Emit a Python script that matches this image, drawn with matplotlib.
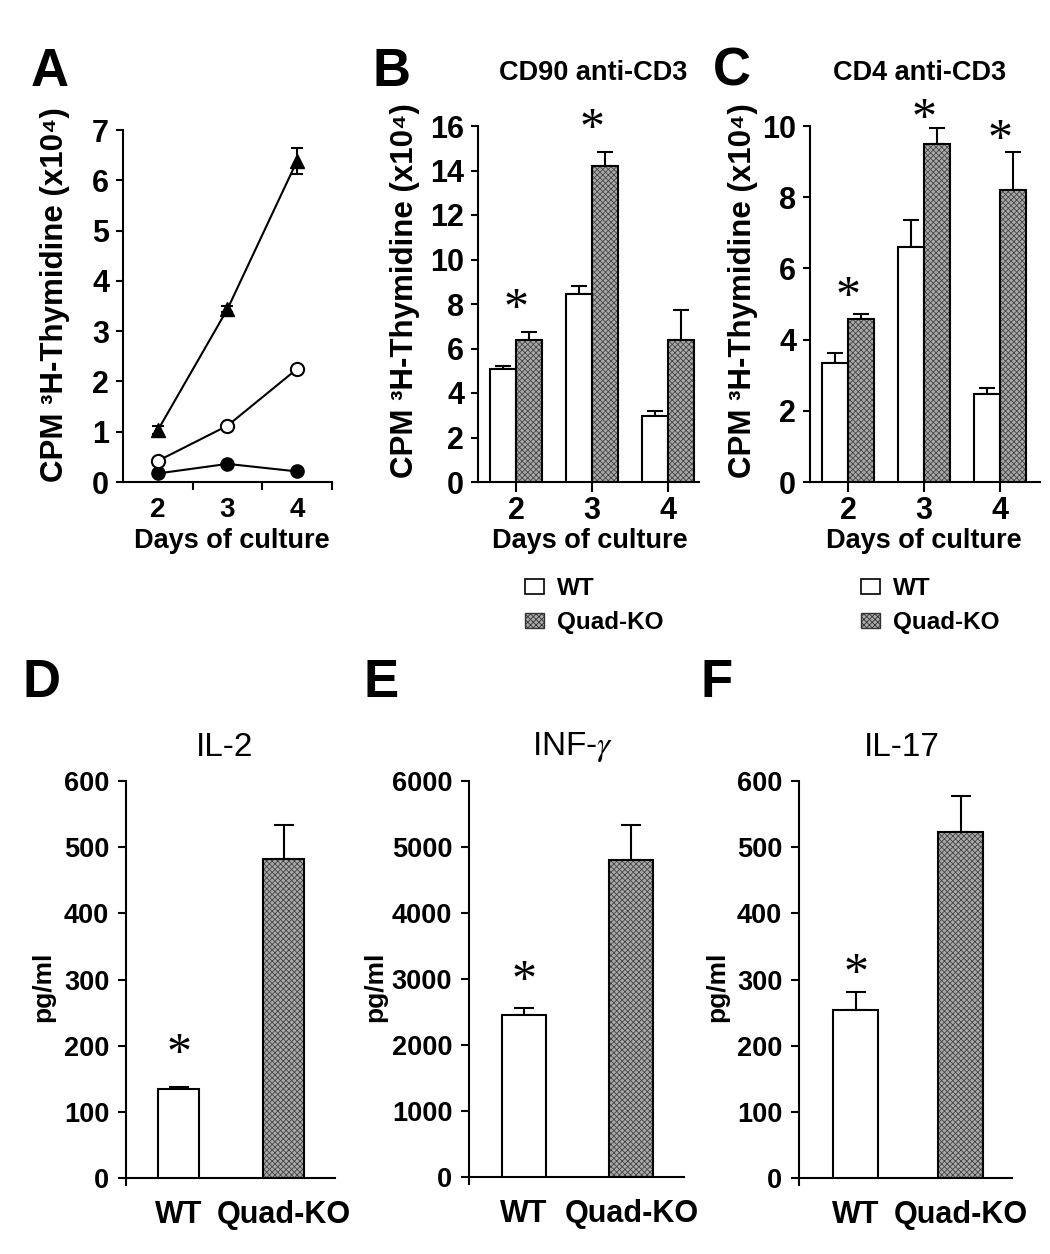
import matplotlib.pyplot as plt
import matplotlib.patches as mpatches
import matplotlib.transforms as mtransforms
import numpy as np

plt.rcParams['font.family'] = ['Liberation Sans', 'DejaVu Sans']
plt.rcParams['hatch.linewidth'] = 0.6
plt.rcParams['mathtext.fontset'] = 'stix'

W, H = 1050, 1254

# ---- data ----
days = [2, 3, 4]
tri_A = [1.03, 3.44, 6.39]
tri_A_err = [0.08, 0.06, 0.26]
open_A = [0.42, 1.12, 2.25]
open_A_err = [0.05, 0.09, 0.04]
fill_A = [0.17, 0.36, 0.21]

wt_B = [5.07, 8.47, 2.95]
wt_B_err = [0.16, 0.33, 0.23]
ko_B = [6.40, 14.22, 6.37]
ko_B_err = [0.35, 0.63, 1.38]
star_B_days = [2, 3]
star_B_y = [8.1, 16.2]

wt_C = [3.35, 6.61, 2.46]
wt_C_err = [0.26, 0.75, 0.18]
ko_C = [4.59, 9.49, 8.20]
ko_C_err = [0.12, 0.44, 1.08]
star_C_days = [2, 3, 4]
star_C_y = [5.4, 10.4, 9.8]

groups = ['WT', 'Quad-KO']
il2 = [134, 482]
il2_err = [3, 52]
infg = [2452, 4802]
infg_err = [116, 531]
il17 = [254, 523]
il17_err = [27, 55]
star_bottom_y = [201, 3109, 322]

KO_FACE = '#a9a9a9'
KO_HATCH = '#454545'


def rect(l, t, r, b):
    return [l / W, 1 - b / H, (r - l) / W, (b - t) / H]


def ftext(x, y, s, **kw):
    fig.text(x / W, 1 - y / H, s, ha='center', va='center', **kw)


def style(ax, ylab_size):
    for s in ['top', 'right']:
        ax.spines[s].set_visible(False)
    for s in ['left', 'bottom']:
        ax.spines[s].set_linewidth(1.5)
    ax.tick_params(axis='y', direction='out', length=5, width=1.5, pad=5,
                   labelsize=ylab_size)
    for lab in ax.get_yticklabels():
        lab.set_fontweight('bold')


def ko_bar(ax, x, h, w):
    ax.bar(x, h, w, color=KO_FACE, hatch='xxxxxx', edgecolor=KO_HATCH, linewidth=0, zorder=2)
    ax.bar(x, h, w, fill=False, edgecolor='k', linewidth=1.5, zorder=3)


def wt_bar(ax, x, h, w):
    ax.bar(x, h, w, color='white', edgecolor='k', linewidth=1.5, zorder=3)


def up_err(ax, x, y, e, cap):
    ax.errorbar(x, y, yerr=[np.zeros(len(e)), e], fmt='none', ecolor='k',
                elinewidth=1.5, capsize=cap, capthick=1.5, zorder=1)


def star(ax, x, y, dy_px):
    tr = ax.transData + mtransforms.ScaledTranslation(0, -dy_px / 100, fig.dpi_scale_trans)
    ax.text(x, y, '*', ha='center', va='center', fontsize=36,
            family='Liberation Serif', transform=tr)


fig = plt.figure(figsize=(W / 100, H / 100), dpi=100)

# ---------------- A ----------------
axA = fig.add_axes(rect(123, 130, 332, 482))
axA.errorbar(days, tri_A, yerr=tri_A_err, color='k', marker='^', ms=10, lw=1.5,
             capsize=4, capthick=1.5, elinewidth=1.5)
axA.errorbar(days, open_A, yerr=open_A_err, color='k', marker='o', ms=9.5, mfc='white',
             mew=1.5, lw=1.5, capsize=3, capthick=1.2, elinewidth=1.2)
axA.plot(days, fill_A, color='k', marker='o', ms=9.5, lw=1.5)
axA.set_xlim(1.5, 4.5)
axA.set_ylim(0, 7)
axA.set_yticks(range(0, 8))
axA.set_xticks(days)
axA.set_xticks([2.5, 3.5, 4.5], minor=True)
style(axA, 22)
axA.tick_params(axis='x', which='major', length=0, pad=11, labelsize=20)
axA.tick_params(axis='x', which='minor', length=6, width=1.5, direction='out')
for lab in axA.get_xticklabels():
    lab.set_fontweight('bold')
axA.patch.set_alpha(0)

# ---------------- B / C ----------------
def bar_panel(box, right_extra, wt, wt_err, ko, ko_err, ymax, yticks, sdays, sy):
    ax = fig.add_axes(rect(*box))
    centers = np.arange(1, 4)
    bw = 26 / 76
    wt_bar(ax, centers - bw / 2, wt, bw)
    ko_bar(ax, centers + bw / 2, ko, bw)
    up_err(ax, centers - bw / 2, wt, wt_err, 6)
    up_err(ax, centers + bw / 2, ko, ko_err, 6)
    for d, y in zip(sdays, sy):
        star(ax, d - 1, y, 8)
    ax.set_xlim(0.5, 3 + right_extra)
    ax.set_ylim(0, ymax)
    ax.set_yticks(yticks)
    ax.set_xticks(centers)
    ax.set_xticklabels([str(d) for d in days])
    style(ax, 22)
    ax.tick_params(axis='x', length=7, width=1.5, direction='out', pad=3, labelsize=22)
    for lab in ax.get_xticklabels():
        lab.set_fontweight('bold')
    return ax


axB = bar_panel((478, 126, 699, 482), 31 / 76, wt_B, wt_B_err, ko_B, ko_B_err,
                16, range(0, 17, 2), star_B_days, star_B_y)
axC = bar_panel((810, 126, 1040, 482), 40 / 76, wt_C, wt_C_err, ko_C, ko_C_err,
                10, range(0, 11, 2), star_C_days, star_C_y)

# ---------------- D / E / F ----------------
def cyto_panel(box, xlim, bw, vals, errs, ymax, step, sy, cap):
    ax = fig.add_axes(rect(*box))
    x = np.arange(len(groups))
    wt_bar(ax, x[0], vals[0], bw)
    ko_bar(ax, x[1], vals[1], bw)
    up_err(ax, x, vals, errs, cap)
    star(ax, x[0], sy, 10)
    ax.set_xlim(*xlim)
    ax.set_ylim(0, ymax)
    ax.set_yticks(np.arange(0, ymax + 1, step))
    ax.set_xticks(x)
    ax.set_xticklabels(groups)
    ax.set_xticks([xlim[0]], minor=True)
    style(ax, 19.5)
    ax.tick_params(axis='y', length=6, pad=6)
    ax.tick_params(axis='x', which='major', length=0, pad=16, labelsize=22)
    ax.tick_params(axis='x', which='minor', length=6, width=1.5, direction='out')
    for lab in ax.get_xticklabels():
        lab.set_fontweight('bold')
    return ax


cyto_panel((126, 781, 335, 1178), (-0.5, 1.486), 0.39, il2, il2_err, 600, 100,
           star_bottom_y[0], 7)
cyto_panel((469, 781, 684, 1177), (-0.51, 1.49), 0.41, infg, infg_err, 6000, 1000,
           star_bottom_y[1], 7)
cyto_panel((799, 781, 1012, 1178), (-0.54, 1.49), 0.43, il17, il17_err, 600, 100,
           star_bottom_y[2], 7)

# ---------------- text ----------------
ylab = 'CPM \u00b3H-Thymidine (x10\u2074)'
ftext(55, 295, ylab, rotation=90, fontsize=22.5, fontweight='bold')
ftext(405, 291, ylab, rotation=90, fontsize=22.5, fontweight='bold')
ftext(743, 291, ylab, rotation=90, fontsize=22.5, fontweight='bold')
for xc in [232, 590, 924]:
    ftext(xc, 541, 'Days of culture', fontsize=19.5, fontweight='bold')

ftext(593, 73, 'CD90 anti-CD3', fontsize=19.5, fontweight='bold')
ftext(920, 73, 'CD4 anti-CD3', fontsize=19.5, fontweight='bold')

for xc, t in zip([225, 573, 902], ['IL-2', r'INF-$\gamma$', 'IL-17']):
    ftext(xc, 747, t, fontsize=24)
for xc in [43, 375, 717]:
    ftext(xc, 987, 'pg/ml', rotation=90, fontsize=19, fontweight='bold')

for xc, yc, L in [(50, 72, 'A'), (392, 72, 'B'), (732, 72, 'C'),
                  (41, 683, 'D'), (381, 683, 'E'), (717, 683, 'F')]:
    ftext(xc, yc, L, fontsize=38, fontweight='bold')

# legends
handles = [mpatches.Patch(facecolor='white', edgecolor='k', linewidth=1.2, label='WT'),
           mpatches.Patch(facecolor=KO_FACE, edgecolor='#333333', hatch='xxxxxx',
                          linewidth=1.0, label='Quad-KO')]
for lx in [525, 861]:
    fig.legend(handles=handles, loc='upper left', bbox_to_anchor=(lx / W, 1 - 577 / H),
               frameon=False, borderpad=0, borderaxespad=0, handlelength=0.8,
               handleheight=0.6, handletextpad=0.5, labelspacing=0.45,
               prop={'weight': 'bold', 'size': 17.5})

fig.savefig('out.png', dpi=100)
